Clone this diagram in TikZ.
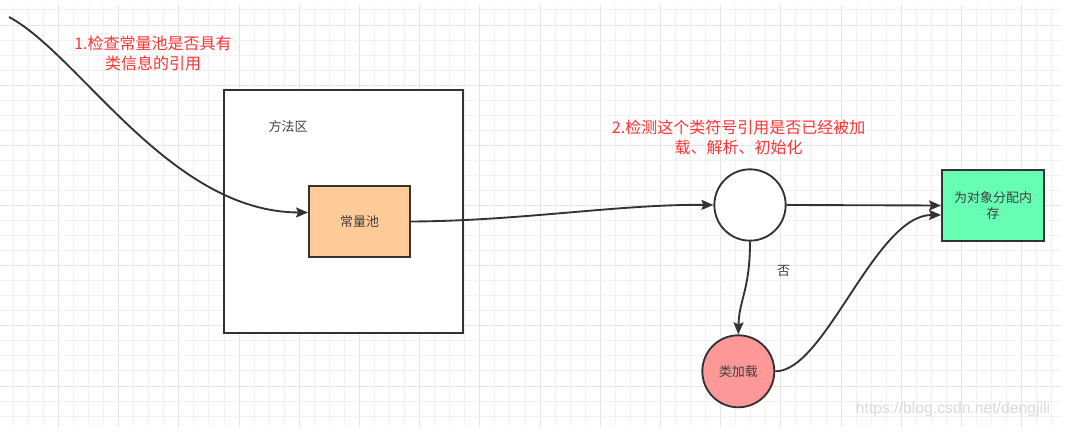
\documentclass[tikz,border=0pt]{standalone}
\usepackage{fontspec}
\setmainfont{Noto Sans CJK SC}
\newfontfamily\wmfont{Liberation Sans}
\usetikzlibrary{arrows.meta}
\definecolor{gridminor}{HTML}{F1F1F1}
\definecolor{gridmajor}{HTML}{E4E4E4}
\definecolor{ink}{HTML}{333333}
\definecolor{txt}{HTML}{404040}
\definecolor{redtxt}{HTML}{FF3333}
\definecolor{poolfill}{HTML}{FFCC99}
\definecolor{allocfill}{HTML}{66FFB3}
\definecolor{loadfill}{HTML}{FF9999}
\definecolor{wm}{HTML}{DADADA}
\begin{document}
\begin{tikzpicture}[x=0.75pt,y=-0.75pt,
  boxstyle/.style={draw=ink,line width=1.4pt,align=center,text=txt,font=\fontsize{9.75pt}{12pt}\selectfont,inner sep=0pt},
  circstyle/.style={circle,draw=ink,line width=1.4pt,align=center,text=txt,font=\fontsize{9.75pt}{12pt}\selectfont,inner sep=0pt},
  plainlabel/.style={text=txt,font=\fontsize{9.75pt}{12pt}\selectfont,inner sep=0pt},
  redlabel/.style={text=redtxt,align=center,font=\fontsize{12pt}{15pt}\selectfont,inner sep=0pt},
  conn/.style={draw=ink,line width=1.4pt,-{Stealth[length=9pt,width=7.5pt,inset=1.5pt]}}
]
\useasboundingbox (0,0) rectangle (1073,441);
\fill[white] (0,0) rectangle (1073,441);
% grid
\foreach \k in {0,...,69}{
  \pgfmathsetmacro{\gx}{13.3+15.05*\k}
  \pgfmathtruncatemacro{\m}{mod(\k,4)}
  \ifnum\m=3
    \draw[gridmajor,line width=0.75pt] (\gx,5) -- (\gx,427);
  \else
    \draw[gridminor,line width=0.75pt] (\gx,5) -- (\gx,427);
  \fi
}
\foreach \k in {0,...,27}{
  \pgfmathsetmacro{\gy}{10+15.04*\k}
  \pgfmathtruncatemacro{\m}{mod(\k,4)}
  \ifnum\m=1
    \draw[gridmajor,line width=0.75pt] (0,\gy) -- (1061,\gy);
  \else
    \draw[gridminor,line width=0.75pt] (0,\gy) -- (1061,\gy);
  \fi
}
% method area
\node[boxstyle,fill=white,minimum width=179.25pt,minimum height=182.25pt] (area) at (343.5,211.5) {};
\node[plainlabel] (arealabel) at (288,127) {方法区};
\node[boxstyle,fill=poolfill,minimum width=75.75pt,minimum height=53.25pt] (pool) at (359.5,221.5) {常量池};
\node[circstyle,fill=white,minimum size=53.5pt] (check) at (750,205) {};
\node[boxstyle,fill=allocfill,minimum width=76.5pt,minimum height=53.25pt] (alloc) at (993,205.5) {为对象分配内\\存};
\node[circstyle,fill=loadfill,minimum size=54pt] (load) at (738.3,371.3) {类加载};
\node[plainlabel] (no) at (783.5,271) {否};
\node[redlabel] (lab1) at (153,53) {1.检查常量池是否具有\\类信息的引用};
\node[redlabel] (lab2) at (738.6,137) {2.检测这个类符号引用是否已经被加\\载、解析、初始化};
\node[text=wm,font=\wmfont\fontsize{11.8pt}{13pt}\selectfont,inner sep=0pt] (wmark) at (953,409) {https://blog.csdn.net/dengjili};
\coordinate (start) at (9,17);
% connectors
\draw[conn] (start) .. controls (80,55) and (170,212) .. ([yshift=6.75pt]pool.west);
\draw[conn] (pool.east) .. controls (520,221) and (620,204) .. (check.west);
\draw[conn] (check.east) -- (alloc.west);
\draw[conn] (check.south) .. controls (750,290) and (739,300) .. (load.north);
\draw[conn] (load.east) .. controls (825,372) and (875,215) .. ([yshift=-7.1pt]alloc.west);
\end{tikzpicture}
\end{document}
